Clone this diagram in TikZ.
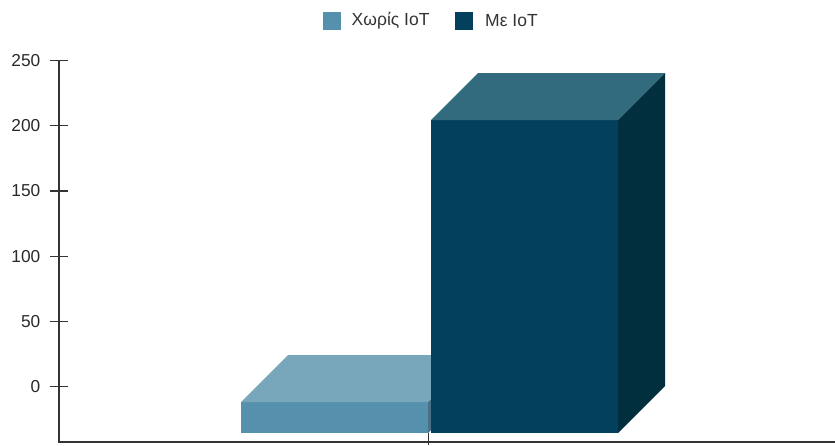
\documentclass[tikz,border=0pt]{standalone}
\usepackage{fontspec}
\setmainfont{Liberation Sans}
\definecolor{lightfront}{HTML}{5591AD}
\definecolor{lighttop}{HTML}{78A7BC}
\definecolor{lightside}{HTML}{4A7088}
\definecolor{darkfront}{HTML}{02405E}
\definecolor{darktop}{HTML}{336B7E}
\definecolor{darkside}{HTML}{022F3E}
\definecolor{axisgray}{HTML}{333333}
\tikzset{
  axisline/.style={draw=axisgray, line width=1.4pt},
  ticklabel/.style={anchor=east, inner sep=0pt, font=\fontsize{17.3}{17}\selectfont, text=axisgray!80!black},
  legendtext/.style={anchor=west, inner sep=0pt, font=\fontsize{17.5}{17}\selectfont, text=axisgray},
}
\begin{document}
\begin{tikzpicture}[x=1pt,y=-1pt]
\useasboundingbox (0,0) rectangle (835,445);

% bar "without IoT": front, top and side faces
\fill[lightfront] (241,402) rectangle (428,433);
\fill[lighttop] (241,402) -- (288,355) -- (475,355) -- (428,402) -- cycle;
\fill[lightside] (428,402) -- (475,355) -- (475,386) -- (428,433) -- cycle;

% bar "with IoT"
\fill[darkfront] (431,120) rectangle (618,433);
\fill[darktop] (431,120) -- (478,73) -- (665,73) -- (618,120) -- cycle;
\fill[darkside] (618,120) -- (665,73) -- (665,386) -- (618,433) -- cycle;

% axes
\coordinate (ytop) at (59,60);
\coordinate (origin) at (59,442);
\coordinate (xend) at (835,442);
\draw[axisline] (ytop) -- (origin) -- (xend);
\coordinate (cattop) at (428.5,433);
\coordinate (catbot) at (428.5,445);
\draw[axisline] (cattop) -- (catbot);

% y ticks and labels
\foreach \v/\y in {250/60.3, 200/125.7, 150/191, 100/256.3, 50/321.7, 0/386.7} {
  \draw[axisline] (50,\y) -- (67.5,\y);
  \node[ticklabel] (lbl\v) at (40.5,\y) {\v};
}

% legend
\fill[lightfront] (322.7,11.7) rectangle (340.7,30);
\node[legendtext] (legA) at (351.5,21) {Χωρίς IoT};
\fill[darkfront] (455,11.7) rectangle (473.3,30);
\node[legendtext] (legB) at (485,21) {Με IoT};
\end{tikzpicture}
\end{document}
